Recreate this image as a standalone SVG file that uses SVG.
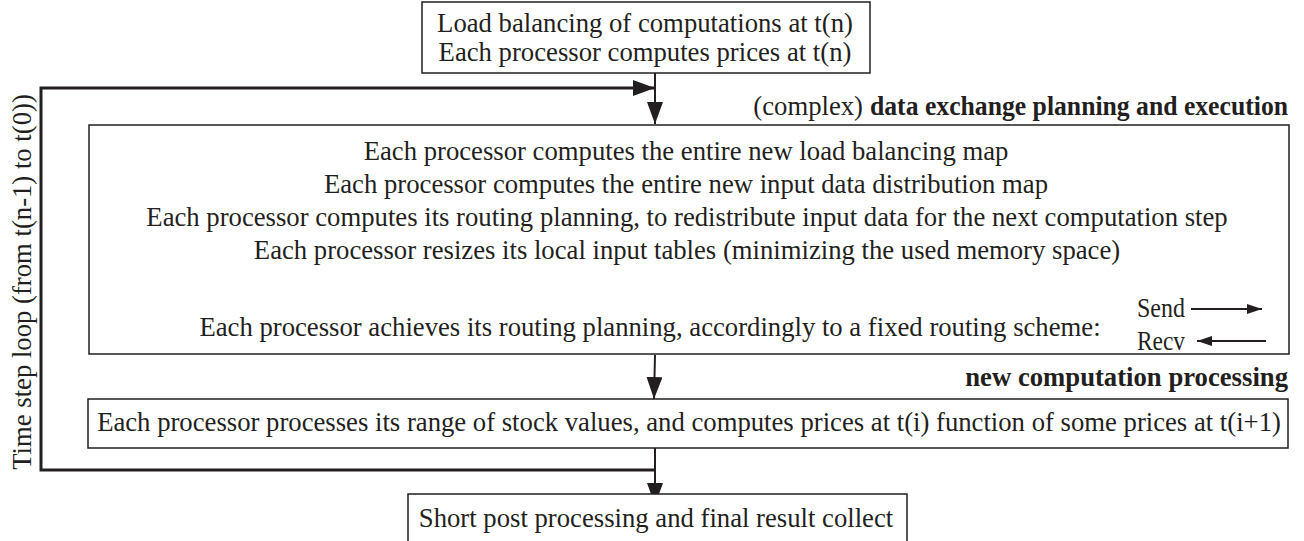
<svg xmlns="http://www.w3.org/2000/svg" width="1304" height="541" viewBox="0 0 1304 541">
<style>
.box{fill:#fff;stroke:#231f20;stroke-width:1.5}
.t{font-family:"Liberation Serif","Times New Roman",serif;font-size:26.7px;fill:#231f20}
.c{text-anchor:middle}
.r{text-anchor:end}
.b{font-weight:bold}
.loop{fill:none;stroke:#231f20;stroke-width:3}
.ar{fill:none;stroke:#231f20;stroke-width:2}
.sm{fill:none;stroke:#231f20;stroke-width:2}
</style>
<defs>
<marker id="ah" markerUnits="userSpaceOnUse" markerWidth="24" markerHeight="16" refX="22" refY="8" orient="auto">
<path d="M0,0 L22,8 L0,16 Z" fill="#231f20"/>
</marker>
<marker id="ahs" markerUnits="userSpaceOnUse" markerWidth="16" markerHeight="10" refX="15" refY="5" orient="auto">
<path d="M0,0 L15,5 L0,10 Z" fill="#231f20"/>
</marker>
</defs>
<rect width="1304" height="541" fill="#fff"/>
<g id="connectors">
<path class="loop" d="M655,470 H41 V88 H655" marker-end="url(#ah)"/>
<line class="ar" x1="655" y1="73" x2="655" y2="124" marker-end="url(#ah)"/>
<line class="ar" x1="654" y1="268" x2="654" y2="309" marker-end="url(#ah)"/>
<line class="ar" x1="655" y1="355" x2="654" y2="399" marker-end="url(#ah)"/>
<line class="ar" x1="655" y1="448" x2="655" y2="505" marker-end="url(#ah)"/>
</g>
<g id="top">
<rect class="box" x="422" y="2" width="448" height="71"/>
<text class="t c" x="645" y="32">Load balancing of computations at t(n)</text>
<text class="t c" x="645" y="61">Each processor computes prices at t(n)</text>
</g>
<g id="exchange">
<text class="t r" x="863" y="115">(complex)</text>
<text class="t r b" x="1288" y="115" textLength="418" lengthAdjust="spacingAndGlyphs">data exchange planning and execution</text>
<rect class="box" x="89" y="125" width="1200" height="229"/>
<text class="t c" x="686" y="160">Each processor computes the entire new load balancing map</text>
<text class="t c" x="686" y="193">Each processor computes the entire new input data distribution map</text>
<text class="t c" x="687" y="226">Each processor computes its routing planning, to redistribute input data for the next computation step</text>
<text class="t c" x="687" y="259">Each processor resizes its local input tables (minimizing the used memory space)</text>
<text class="t c" x="650" y="336">Each processor achieves its routing planning, accordingly to a fixed routing scheme:</text>
<text class="t" x="1137" y="317" textLength="48" lengthAdjust="spacingAndGlyphs">Send</text>
<text class="t" x="1137" y="350" textLength="48" lengthAdjust="spacingAndGlyphs">Recv</text>
<line class="sm" x1="1191" y1="309" x2="1262" y2="309" marker-end="url(#ahs)"/>
<line class="sm" x1="1266" y1="341" x2="1197" y2="341" marker-end="url(#ahs)"/>
</g>
<g id="compute">
<text class="t r b" x="1288" y="386">new computation processing</text>
<rect class="box" x="88" y="399" width="1200" height="49"/>
<text class="t c" x="689" y="431">Each processor processes its range of stock values, and computes prices at t(i) function of some prices at t(i+1)</text>
</g>
<g id="final">
<rect class="box" x="408" y="494" width="499" height="60"/>
<text class="t c" x="656" y="527">Short post processing and final result collect</text>
</g>
<g id="loop-label">
<text class="t c" transform="translate(31,282) rotate(-90)">Time step loop (from t(n-1) to t(0))</text>
</g>
</svg>
